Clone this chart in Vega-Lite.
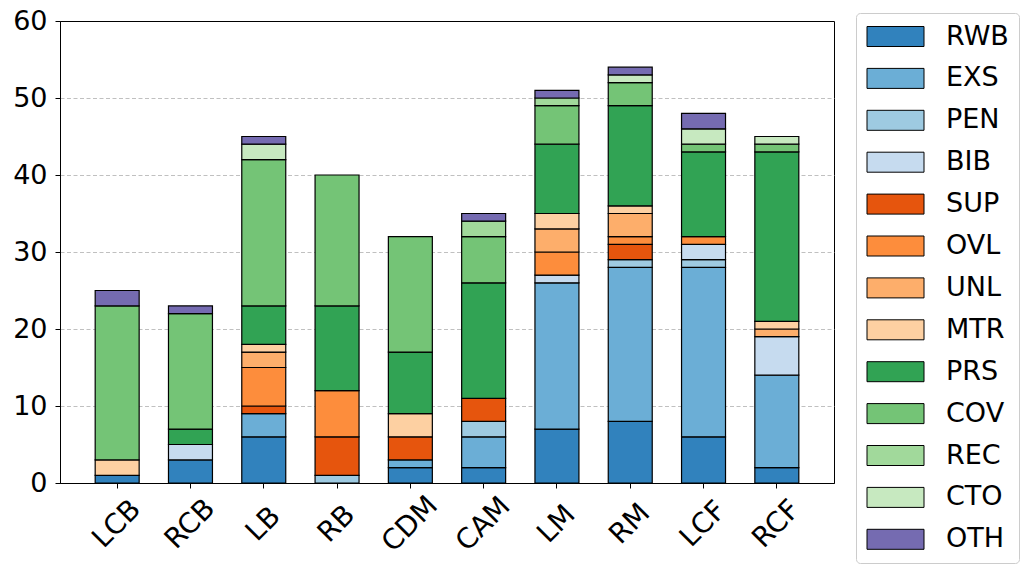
{
  "$schema": "https://vega.github.io/schema/vega-lite/v6.json",
  "width": 774,
  "height": 462,
  "autosize": {"type": "none"},
  "padding": {"left": 60, "top": 21, "right": 195, "bottom": 92},
  "background": "white",
  "config": {
    "font": "DejaVu Sans",
    "view": {"stroke": "black", "strokeWidth": 1},
    "axis": {"labelFont": "DejaVu Sans", "labelColor": "black", "tickColor": "black", "domainColor": "black"}
  },
  "data": {
    "values": [
      {"pos": "LCB", "cat": "RWB", "n": 1},
      {"pos": "LCB", "cat": "MTR", "n": 2},
      {"pos": "LCB", "cat": "COV", "n": 20},
      {"pos": "LCB", "cat": "OTH", "n": 2},
      {"pos": "RCB", "cat": "RWB", "n": 3},
      {"pos": "RCB", "cat": "BIB", "n": 2},
      {"pos": "RCB", "cat": "PRS", "n": 2},
      {"pos": "RCB", "cat": "COV", "n": 15},
      {"pos": "RCB", "cat": "OTH", "n": 1},
      {"pos": "LB", "cat": "RWB", "n": 6},
      {"pos": "LB", "cat": "EXS", "n": 3},
      {"pos": "LB", "cat": "SUP", "n": 1},
      {"pos": "LB", "cat": "OVL", "n": 5},
      {"pos": "LB", "cat": "UNL", "n": 2},
      {"pos": "LB", "cat": "MTR", "n": 1},
      {"pos": "LB", "cat": "PRS", "n": 5},
      {"pos": "LB", "cat": "COV", "n": 19},
      {"pos": "LB", "cat": "CTO", "n": 2},
      {"pos": "LB", "cat": "OTH", "n": 1},
      {"pos": "RB", "cat": "PEN", "n": 1},
      {"pos": "RB", "cat": "SUP", "n": 5},
      {"pos": "RB", "cat": "OVL", "n": 6},
      {"pos": "RB", "cat": "PRS", "n": 11},
      {"pos": "RB", "cat": "COV", "n": 17},
      {"pos": "CDM", "cat": "RWB", "n": 2},
      {"pos": "CDM", "cat": "EXS", "n": 1},
      {"pos": "CDM", "cat": "SUP", "n": 3},
      {"pos": "CDM", "cat": "MTR", "n": 3},
      {"pos": "CDM", "cat": "PRS", "n": 8},
      {"pos": "CDM", "cat": "COV", "n": 15},
      {"pos": "CAM", "cat": "RWB", "n": 2},
      {"pos": "CAM", "cat": "EXS", "n": 4},
      {"pos": "CAM", "cat": "PEN", "n": 2},
      {"pos": "CAM", "cat": "SUP", "n": 3},
      {"pos": "CAM", "cat": "PRS", "n": 15},
      {"pos": "CAM", "cat": "COV", "n": 6},
      {"pos": "CAM", "cat": "REC", "n": 2},
      {"pos": "CAM", "cat": "OTH", "n": 1},
      {"pos": "LM", "cat": "RWB", "n": 7},
      {"pos": "LM", "cat": "EXS", "n": 19},
      {"pos": "LM", "cat": "BIB", "n": 1},
      {"pos": "LM", "cat": "OVL", "n": 3},
      {"pos": "LM", "cat": "UNL", "n": 3},
      {"pos": "LM", "cat": "MTR", "n": 2},
      {"pos": "LM", "cat": "PRS", "n": 9},
      {"pos": "LM", "cat": "COV", "n": 5},
      {"pos": "LM", "cat": "REC", "n": 1},
      {"pos": "LM", "cat": "OTH", "n": 1},
      {"pos": "RM", "cat": "RWB", "n": 8},
      {"pos": "RM", "cat": "EXS", "n": 20},
      {"pos": "RM", "cat": "PEN", "n": 1},
      {"pos": "RM", "cat": "SUP", "n": 2},
      {"pos": "RM", "cat": "OVL", "n": 1},
      {"pos": "RM", "cat": "UNL", "n": 3},
      {"pos": "RM", "cat": "MTR", "n": 1},
      {"pos": "RM", "cat": "PRS", "n": 13},
      {"pos": "RM", "cat": "COV", "n": 3},
      {"pos": "RM", "cat": "CTO", "n": 1},
      {"pos": "RM", "cat": "OTH", "n": 1},
      {"pos": "LCF", "cat": "RWB", "n": 6},
      {"pos": "LCF", "cat": "EXS", "n": 22},
      {"pos": "LCF", "cat": "PEN", "n": 1},
      {"pos": "LCF", "cat": "BIB", "n": 2},
      {"pos": "LCF", "cat": "OVL", "n": 1},
      {"pos": "LCF", "cat": "PRS", "n": 11},
      {"pos": "LCF", "cat": "COV", "n": 1},
      {"pos": "LCF", "cat": "CTO", "n": 2},
      {"pos": "LCF", "cat": "OTH", "n": 2},
      {"pos": "RCF", "cat": "RWB", "n": 2},
      {"pos": "RCF", "cat": "EXS", "n": 12},
      {"pos": "RCF", "cat": "BIB", "n": 5},
      {"pos": "RCF", "cat": "UNL", "n": 1},
      {"pos": "RCF", "cat": "MTR", "n": 1},
      {"pos": "RCF", "cat": "PRS", "n": 22},
      {"pos": "RCF", "cat": "COV", "n": 1},
      {"pos": "RCF", "cat": "CTO", "n": 1}
    ]
  },
  "transform": [
    {"calculate": "indexof(['RWB','EXS','PEN','BIB','SUP','OVL','UNL','MTR','PRS','COV','REC','CTO','OTH'], datum.cat)", "as": "stackOrder"}
  ],
  "mark": {"type": "bar", "stroke": "black", "strokeWidth": 1.2},
  "encoding": {
    "x": {
      "field": "pos",
      "type": "nominal",
      "sort": ["LCB", "RCB", "LB", "RB", "CDM", "CAM", "LM", "RM", "LCF", "RCF"],
      "scale": {"paddingInner": 0.4, "paddingOuter": 0.48},
      "axis": {
        "title": null,
        "labelAngle": -45,
        "labelAlign": "center",
        "labelBaseline": "middle",
        "labelFontSize": 28,
        "labelPadding": 36,
        "tickSize": 5,
        "labelOverlap": false,
        "labelBound": false,
        "grid": false
      }
    },
    "y": {
      "field": "n",
      "type": "quantitative",
      "aggregate": "sum",
      "stack": "zero",
      "scale": {"domain": [0, 60], "nice": false},
      "axis": {
        "title": null,
        "values": [0, 10, 20, 30, 40, 50, 60],
        "labelFontSize": 27,
        "labelPadding": 8,
        "tickSize": 5,
        "grid": true,
        "gridColor": "#b0b0b0",
        "gridDash": [4, 2.5],
        "gridWidth": 0.8,
        "gridOpacity": {"condition": {"test": "datum.value === 60 || datum.value === 0", "value": 0}, "value": 1}
      }
    },
    "order": {"field": "stackOrder", "type": "quantitative", "sort": "ascending"},
    "color": {
      "field": "cat",
      "type": "nominal",
      "sort": ["RWB", "EXS", "PEN", "BIB", "SUP", "OVL", "UNL", "MTR", "PRS", "COV", "REC", "CTO", "OTH"],
      "scale": {
        "domain": ["RWB", "EXS", "PEN", "BIB", "SUP", "OVL", "UNL", "MTR", "PRS", "COV", "REC", "CTO", "OTH"],
        "range": ["#3182bd", "#6baed6", "#9ecae1", "#c6dbef", "#e6550d", "#fd8d3c", "#fdae6b", "#fdd0a2", "#31a354", "#74c476", "#a1d99b", "#c7e9c0", "#756bb1"]
      },
      "legend": {
        "title": null,
        "orient": "none",
        "legendX": 796,
        "legendY": -8,
        "padding": 10,
        "strokeColor": "#cccccc",
        "fillColor": "white",
        "cornerRadius": 4,
        "symbolType": "M-2.85,-1H2.85V1H-2.85Z",
        "symbolSize": 400,
        "symbolStrokeColor": "black",
        "symbolStrokeWidth": 1,
        "symbolOpacity": 1,
        "symbolOffset": 16,
        "labelOffset": 37,
        "labelFontSize": 27,
        "labelFont": "DejaVu Sans",
        "labelColor": "black",
        "rowPadding": 13.9
      }
    }
  }
}
